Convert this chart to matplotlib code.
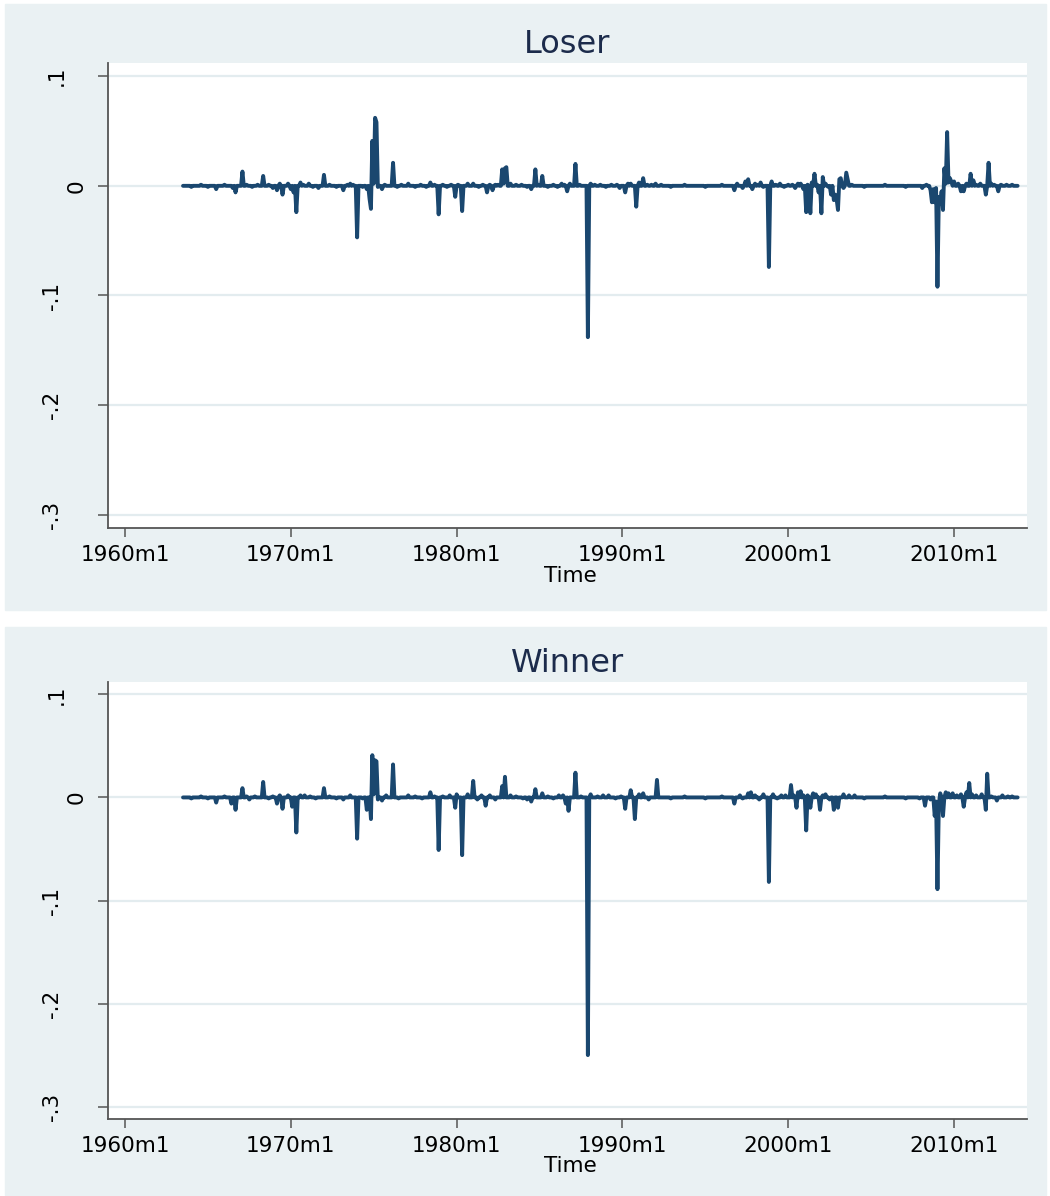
import numpy as np
import matplotlib
matplotlib.use("Agg")
import matplotlib.pyplot as plt
from matplotlib.patches import Rectangle

# ──────────────────────────────────────────────────────────────
# DATA – monthly series, months counted from 1960m1 (=0)
# only the months that move off zero are listed: (month, value)
# ──────────────────────────────────────────────────────────────
START_MONTH = 42
END_MONTH = 646

LOSER_POINTS = [
    (48, -0.001), (55, 0.001), (60, -0.001), (66, -0.003), (72, 0.001),
    (78, -0.002), (80, -0.006), (85, 0.013), (88, 0.001), (92, -0.001),
    (96, 0.001), (100, 0.009), (104, 0.001), (107, -0.002), (110, -0.004),
    (112, 0.002), (114, -0.008), (118, 0.002), (120, -0.003), (122, -0.006),
    (124, -0.024), (127, 0.003), (129, 0.001), (133, 0.002), (136, -0.001),
    (140, -0.002), (144, 0.010), (148, 0.001), (153, -0.001), (158, -0.004),
    (161, 0.001), (163, 0.002), (165, 0.001), (168, -0.047), (172, -0.001),
    (175, -0.003), (177, -0.012), (178, -0.021), (179, 0.041), (180, 0.002),
    (181, 0.062), (182, 0.058), (183, -0.001), (186, -0.003), (188, 0.001),
    (194, 0.021), (197, -0.001), (200, 0.001), (205, 0.002), (210, -0.001),
    (214, 0.001), (218, -0.001), (221, 0.003), (224, 0.001), (227, -0.026),
    (230, 0.001), (233, -0.001), (236, 0.001), (239, -0.010), (241, 0.001),
    (244, -0.023), (248, 0.002), (252, 0.002), (256, -0.001), (259, 0.001),
    (262, -0.006), (264, 0.001), (266, -0.004), (268, 0.001), (270, 0.001),
    (273, 0.015), (274, 0.002), (275, 0.016), (276, 0.017), (279, 0.002),
    (283, 0.001), (287, 0.001), (291, -0.001), (294, -0.003), (297, 0.015),
    (299, 0.001), (302, 0.009), (306, -0.001), (310, 0.001), (313, -0.001),
    (316, 0.002), (318, 0.001), (320, -0.005), (322, 0.002), (326, 0.020),
    (329, 0.001), (335, -0.138), (337, 0.002), (340, 0.001), (344, 0.001),
    (348, -0.001), (352, 0.001), (356, 0.001), (358, -0.002), (362, -0.006),
    (364, 0.002), (366, 0.002), (370, -0.019), (372, 0.003), (375, 0.007),
    (378, 0.001), (381, 0.001), (384, 0.002), (388, 0.001), (395, -0.001),
    (405, 0.001), (420, -0.001), (432, 0.001), (441, -0.004), (443, 0.002),
    (447, -0.002), (449, 0.004), (451, 0.006), (454, -0.003), (456, 0.002),
    (458, 0.001), (460, 0.003), (462, -0.001), (466, -0.074), (468, 0.004),
    (471, 0.001), (474, 0.002), (477, -0.001), (480, 0.001), (483, 0.001),
    (485, -0.002), (487, 0.002), (489, 0.002), (491, -0.003), (493, -0.024),
    (494, 0.001), (496, -0.025), (497, 0.003), (499, 0.011), (501, 0.001),
    (502, -0.006), (504, -0.025), (505, 0.008), (507, 0.002), (509, -0.001),
    (511, -0.008), (513, -0.013), (514, -0.008), (515, -0.012), (516, -0.022),
    (517, 0.006), (518, 0.007), (520, -0.002), (522, 0.012), (523, 0.006),
    (526, 0.001), (535, -0.001), (550, 0.001), (565, -0.001), (577, -0.002),
    (580, 0.001), (583, -0.004), (584, -0.015), (585, -0.003), (586, -0.015),
    (587, -0.002), (588, -0.092), (589, -0.010), (590, -0.016), (591, -0.005),
    (592, -0.022), (593, 0.016), (594, 0.002), (595, 0.049), (596, 0.003),
    (597, 0.007), (598, 0.004), (600, 0.004), (603, 0.002), (605, -0.005),
    (607, -0.005), (609, 0.002), (612, 0.011), (614, 0.005), (616, 0.001),
    (619, 0.002), (623, -0.008), (625, 0.021), (627, 0.002), (629, 0.001),
    (632, -0.005), (634, 0.001), (638, 0.001), (642, 0.001),
]

WINNER_POINTS = [
    (48, -0.001), (55, 0.001), (60, -0.001), (66, -0.005), (72, 0.001),
    (77, -0.006), (80, -0.012), (85, 0.009), (88, 0.001), (90, -0.002),
    (94, 0.001), (100, 0.015), (104, -0.001), (107, 0.001), (110, -0.006),
    (112, 0.002), (114, -0.011), (118, 0.002), (121, -0.009), (124, -0.034),
    (127, 0.002), (130, 0.002), (134, 0.001), (138, -0.001), (144, 0.009),
    (148, 0.001), (153, -0.001), (158, -0.002), (163, 0.002), (168, -0.040),
    (172, -0.001), (175, -0.012), (178, -0.021), (179, 0.041), (180, 0.003),
    (181, 0.036), (182, 0.035), (183, -0.002), (186, -0.003), (189, 0.002),
    (194, 0.032), (198, -0.001), (205, 0.002), (210, 0.001), (215, -0.001),
    (221, 0.005), (224, 0.001), (227, -0.051), (230, 0.001), (235, 0.002),
    (239, -0.010), (240, 0.003), (244, -0.056), (248, 0.003), (252, 0.016),
    (255, -0.002), (258, 0.002), (261, -0.008), (264, 0.002), (268, -0.002),
    (273, 0.011), (275, 0.020), (279, 0.002), (283, 0.001), (288, -0.001),
    (291, -0.002), (294, -0.004), (297, 0.008), (302, 0.004), (306, 0.001),
    (310, -0.001), (314, 0.002), (317, 0.002), (319, -0.006), (321, -0.013),
    (326, 0.024), (330, 0.001), (335, -0.250), (337, 0.003), (342, 0.001),
    (346, 0.002), (350, 0.002), (355, -0.001), (359, 0.001), (362, -0.011),
    (366, 0.007), (369, -0.021), (372, 0.003), (375, 0.004), (379, -0.002),
    (385, 0.017), (395, -0.001), (405, 0.001), (420, -0.001), (432, 0.001),
    (441, -0.006), (445, 0.002), (447, -0.001), (451, 0.004), (453, 0.005),
    (456, 0.002), (459, -0.002), (462, 0.003), (466, -0.082), (469, 0.003),
    (472, -0.001), (475, 0.002), (478, 0.002), (482, 0.012), (484, 0.002),
    (486, -0.010), (487, 0.005), (489, 0.006), (491, 0.002), (493, -0.032),
    (494, 0.002), (496, -0.010), (498, 0.004), (500, 0.003), (503, -0.012),
    (505, 0.002), (507, 0.003), (510, -0.002), (513, -0.012), (516, -0.010),
    (520, 0.003), (524, 0.002), (528, 0.002), (535, -0.001), (550, 0.001),
    (565, -0.001), (575, -0.001), (579, -0.008), (583, -0.002), (586, -0.018),
    (587, -0.004), (588, -0.089), (589, -0.006), (590, 0.004), (592, -0.018),
    (594, 0.005), (596, 0.004), (599, 0.004), (602, 0.002), (605, 0.003),
    (607, -0.009), (609, 0.005), (611, 0.014), (613, 0.003), (616, 0.002),
    (620, 0.003), (623, -0.012), (624, 0.023), (627, 0.001), (631, -0.003),
    (635, 0.002), (639, 0.001), (642, 0.001),
]

XTICKS = [0, 120, 240, 360, 480, 600]
XTICK_LABELS = ["1960m1", "1970m1", "1980m1", "1990m1", "2000m1", "2010m1"]
YTICKS = [0.1, 0.0, -0.1, -0.2, -0.3]
YTICK_LABELS = [".1", "0", "-.1", "-.2", "-.3"]

# ──────────────────────────────────────────────────────────────
# STYLE (Stata s2color look)
# ──────────────────────────────────────────────────────────────
W, H = 1050, 1196
BG = "#EAF1F3"
GRID = "#E3ECEF"
LINE = "#1A476F"
AXIS = "#555555"
TITLE_C = "#1C2B4B"

plt.rcParams["font.family"] = "DejaVu Sans"


def build_series(points):
    t = np.arange(START_MONTH, END_MONTH + 1)
    y = np.zeros(len(t))
    for m, v in points:
        y[m - START_MONTH] = v
    return t, y


def fx(px):
    return px / W


def fy(py):
    return 1 - py / H


def draw_panel(fig, title, points, box, plot, label_y):
    # box / plot: (left, top, right, bottom) in pixels
    bl, bt, br, bb = box
    fig.add_artist(Rectangle((fx(bl), fy(bb)), fx(br - bl), (bb - bt) / H,
                             transform=fig.transFigure, color=BG, zorder=-10))
    pl, pt, pr, pb = plot
    ax = fig.add_axes([fx(pl), fy(pb), fx(pr - pl), (pb - pt) / H])
    ax.set_facecolor("white")

    t, y = build_series(points)
    ax.plot(t, y, color=LINE, lw=2.8, solid_joinstyle="round",
            solid_capstyle="round", zorder=3)

    ax.set_xlim(-12.3, 652.8)
    ax.set_ylim(-0.312, 0.112)

    for v in YTICKS:
        ax.axhline(v, color=GRID, lw=1.6, zorder=1)

    for s in ["top", "right"]:
        ax.spines[s].set_visible(False)
    for s in ["left", "bottom"]:
        ax.spines[s].set_color(AXIS)
        ax.spines[s].set_linewidth(1.3)

    ax.set_xticks(XTICKS)
    ax.set_xticklabels(XTICK_LABELS, fontsize=15.5)
    ax.tick_params(axis="x", length=6.5, width=1.1, color=AXIS, pad=5.5)
    ax.set_yticks(YTICKS)
    ax.set_yticklabels([])
    ax.tick_params(axis="y", length=7.2, width=1.1, color=AXIS)

    # rotated y labels, Stata puts the "0" a bit further right
    for v, lab in zip(YTICKS, YTICK_LABELS):
        cx = 77 if lab == "0" else (57 if lab == ".1" else 52)
        ax.text((cx - pl) / (pr - pl), v, lab, rotation=90, fontsize=15.5,
                ha="center", va="center", transform=ax.get_yaxis_transform())

    ax.set_title(title, fontsize=23, color=TITLE_C, pad=7)
    fig.text(fx((pl + pr) / 2 + 3), fy(label_y), "Time", fontsize=15.5,
             ha="center", va="baseline")
    return ax


fig = plt.figure(figsize=(W / 100, H / 100), dpi=100)
fig.patch.set_facecolor("white")

draw_panel(fig, "Loser", LOSER_POINTS,
           box=(5, 4, 1046, 610), plot=(108, 63, 1027, 528), label_y=582)
draw_panel(fig, "Winner", WINNER_POINTS,
           box=(5, 627, 1046, 1195), plot=(108, 682, 1027, 1119), label_y=1172)

fig.savefig("out.png", dpi=100, facecolor="white")
